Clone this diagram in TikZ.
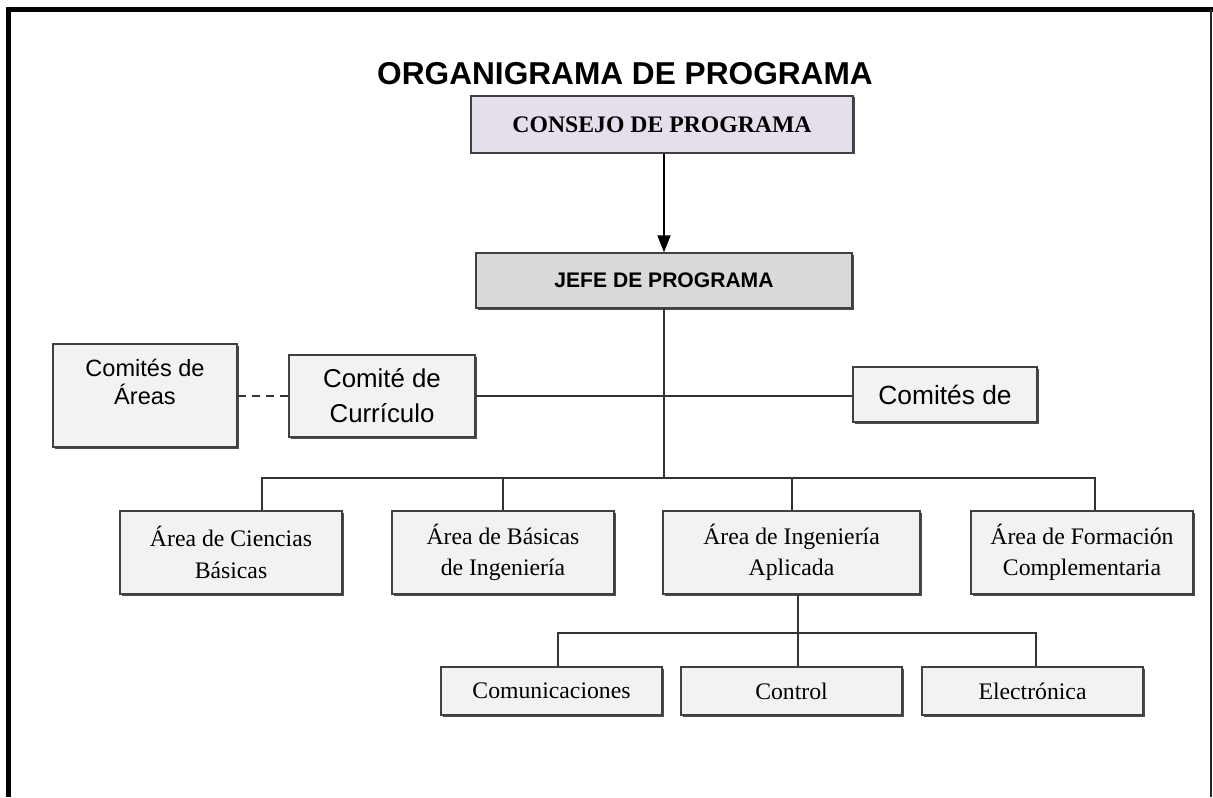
\documentclass[tikz,border=0pt]{standalone}
\usepackage{fontspec}
\setmainfont{Liberation Serif}
\setsansfont{Liberation Sans}
\usetikzlibrary{arrows.meta,shadows}
\definecolor{lila}{RGB}{229,223,236}
\definecolor{gris}{RGB}{217,217,217}
\definecolor{claro}{RGB}{242,242,242}
\tikzset{
  caja/.style={draw=black!75, line width=0.8pt, fill=claro, align=center, inner sep=2pt,
    drop shadow={shadow xshift=0.03cm, shadow yshift=-0.03cm, opacity=0.7, fill=black}},
  linea/.style={draw=black!80, line width=0.8pt},
  serifa/.style={font=\rmfamily\fontsize{13.5}{18}\selectfont}
}
\begin{document}
\begin{tikzpicture}
\useasboundingbox (0,0) rectangle (24.26,-15.94);
\draw[line width=0.1cm] (0.17,-15.94) |- (24.26,-0.19);
\draw[line width=0.03cm, black!85] (24.22,-0.19) -- (24.22,-15.94);
\node[font=\sffamily\bfseries\fontsize{18}{20}\selectfont, anchor=base] (titulo) at (12.5,-1.70) {ORGANIGRAMA DE PROGRAMA};
\node[caja, fill=lila, minimum width=7.64cm, minimum height=1.14cm, font=\rmfamily\bfseries\fontsize{13.5}{16}\selectfont] (consejo) at (13.24,-2.49) {CONSEJO DE PROGRAMA};
\node[caja, fill=gris, minimum width=7.52cm, minimum height=1.10cm, font=\sffamily\bfseries\fontsize{12}{14}\selectfont] (jefe) at (13.28,-5.61) {JEFE DE PROGRAMA};
\node[caja, minimum width=3.68cm, minimum height=2.06cm,
  label={[font=\sffamily\fontsize{13.4}{15.8}\selectfont, align=center, anchor=north, yshift=-0.19cm]north:Comités de\\Áreas}] (areas) at (2.90,-7.91) {};
\node[caja, minimum width=3.72cm, minimum height=1.64cm, font=\sffamily\fontsize{14.7}{19.8}\selectfont] (curriculo) at (7.64,-7.92) {Comité de\\Currículo};
\node[caja, minimum width=3.68cm, minimum height=1.10cm, font=\sffamily\fontsize{15}{18}\selectfont] (comites) at (18.90,-7.89) {Comités de};
\node[caja, serifa, minimum width=4.44cm, minimum height=1.66cm] (ciencias) at (4.62,-11.05) {Área de Ciencias\\Básicas};
\node[caja, serifa, minimum width=4.44cm, minimum height=1.66cm] (basicas) at (10.06,-11.05) {Área de Básicas\\de Ingeniería};
\node[caja, serifa, minimum width=5.14cm, minimum height=1.66cm] (aplicada) at (15.83,-11.05) {Área de Ingeniería\\Aplicada};
\node[caja, serifa, minimum width=4.44cm, minimum height=1.66cm] (formacion) at (21.64,-11.05) {Área de Formación\\Complementaria};
\node[caja, serifa, minimum width=4.42cm, minimum height=0.96cm] (comunic) at (11.03,-13.82) {Comunicaciones};
\node[caja, serifa, minimum width=4.42cm, minimum height=0.96cm] (control) at (15.83,-13.82) {Control};
\node[caja, serifa, minimum width=4.42cm, minimum height=0.96cm] (electronica) at (20.65,-13.82) {Electrónica};
\coordinate (barra) at (0,-9.56);
\coordinate (barra2) at (0,-12.66);
\draw[linea, draw=black, line width=1pt, -{Triangle[width=0.26cm,length=0.34cm]}] (consejo.south -| jefe.north) -- (jefe.north);
\draw[linea] (jefe.south) -- (jefe.south |- barra);
\draw[linea] (curriculo.east) -- (curriculo.east -| comites.west);
\draw[linea, dash pattern=on 0.16cm off 0.12cm] (areas.east |- curriculo.west) -- (curriculo.west);
\draw[linea] ([xshift=0.62cm]ciencias.north) -- ([xshift=0.62cm]ciencias.north |- barra) -- ([xshift=0.26cm]formacion.north |- barra) -- ([xshift=0.26cm]formacion.north);
\draw[linea] (basicas.north) -- (basicas.north |- barra);
\draw[linea] ([xshift=0.01cm]aplicada.north) -- ([xshift=0.01cm]aplicada.north |- barra);
\draw[linea] ([xshift=0.13cm]comunic.north) -- ([xshift=0.13cm]comunic.north |- barra2) -- ([xshift=0.07cm]electronica.north |- barra2) -- ([xshift=0.07cm]electronica.north);
\draw[linea] ([xshift=0.13cm]aplicada.south) -- ([xshift=0.13cm]control.north);
\end{tikzpicture}
\end{document}
